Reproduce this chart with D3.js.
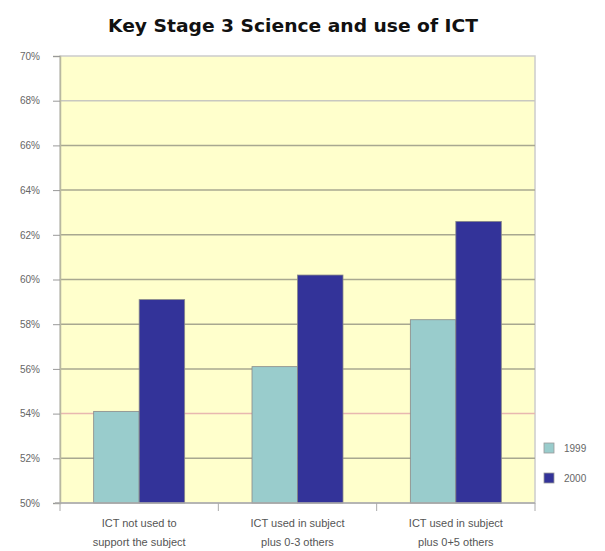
<!DOCTYPE html>
<html>
<head>
<meta charset="utf-8">
<script src="https://cdn.jsdelivr.net/npm/d3@7"></script>
<style>
  body { margin: 0; background: #fff; }
  svg { display: block; }
</style>
</head>
<body>
<svg id="chart" width="605" height="551"></svg>
<script>
// values
var categories = [
    ["ICT not used to", "support the subject"],
    ["ICT used in subject", "plus 0-3 others"],
    ["ICT used in subject", "plus 0+5 others"]
];
var seriesNames = ["1999", "2000"];
var values1999 = [54.1, 56.1, 58.2];
var values2000 = [59.1, 60.2, 62.6];
var yTicks = [50, 52, 54, 56, 58, 60, 62, 64, 66, 68, 70];

var colors = ["#99cccc", "#333399"];

var svg = d3.select("#chart");
var plotLeft = 60, plotRight = 535, plotTop = 56, plotBottom = 503;

svg.append("text")
    .attr("x", 293)
    .attr("y", 32)
    .attr("text-anchor", "middle")
    .attr("font-family", "DejaVu Sans, sans-serif")
    .attr("font-weight", "bold")
    .attr("font-size", "17px")
    .attr("textLength", 370)
    .attr("lengthAdjust", "spacingAndGlyphs")
    .attr("fill", "#111")
    .text("Key Stage 3 Science and use of ICT");

var xScale = d3.scaleBand().domain(d3.range(categories.length)).range([plotLeft, plotRight]);
var inner = d3.scaleBand().domain(seriesNames).range([0, xScale.bandwidth()]).paddingOuter(0.74);
var yScale = d3.scaleLinear().domain([50, 70]).range([plotBottom, plotTop]);

// plot background
svg.append("rect")
    .attr("x", plotLeft).attr("y", plotTop)
    .attr("width", plotRight - plotLeft).attr("height", plotBottom - plotTop)
    .attr("fill", "#ffffcc")
    .attr("stroke", "#cccccc")
    .attr("stroke-width", 1.5);

// gridlines
svg.append("g").selectAll("line")
    .data(yTicks.filter(function(d) { return d > 50 && d < 70; }))
    .enter().append("line")
    .attr("x1", plotLeft).attr("x2", plotRight)
    .attr("y1", function(d) { return yScale(d); })
    .attr("y2", function(d) { return yScale(d); })
    .attr("stroke", function(d) {
        if (d >= 68) return "#c8c8c0";
        if (d == 54) return "#e8b8b0";
        return "#a8a890";
    })
    .attr("stroke-width", 1.5);

// y axis
var yAxis = svg.append("g")
    .attr("transform", "translate(" + plotLeft + ",0)")
    .call(d3.axisLeft(yScale).tickValues(yTicks).tickSize(7).tickPadding(13)
        .tickFormat(function(d) { return d + "%"; }));
yAxis.select(".domain").attr("stroke", "#b8b8a0").attr("stroke-width", 1.5);
yAxis.selectAll(".tick line").attr("stroke", "#999");
yAxis.selectAll("text")
    .attr("font-family", "Liberation Sans, Arial, sans-serif")
    .attr("font-size", "10px")
    .attr("fill", "#666");

// bars
var groups = svg.append("g").selectAll("g")
    .data(categories)
    .enter().append("g")
    .attr("transform", function(d, i) { return "translate(" + xScale(i) + ",0)"; });

groups.selectAll("rect")
    .data(function(d, i) {
        return [
            {name: seriesNames[0], value: values1999[i]},
            {name: seriesNames[1], value: values2000[i]}
        ];
    })
    .enter().append("rect")
    .attr("x", function(d) { return inner(d.name); })
    .attr("y", function(d) { return yScale(d.value); })
    .attr("width", inner.bandwidth())
    .attr("height", function(d) { return plotBottom - yScale(d.value); })
    .attr("fill", function(d, i) { return colors[i]; })
    .attr("stroke", "#888")
    .attr("stroke-width", 0.8);

// x axis
var xAxis = svg.append("g")
    .attr("transform", "translate(0," + plotBottom + ")");
xAxis.append("line")
    .attr("x1", plotLeft - 5).attr("x2", plotRight)
    .attr("stroke", "#aaa").attr("stroke-width", 1.5);
xAxis.selectAll(".tk")
    .data(d3.range(categories.length + 1))
    .enter().append("line")
    .attr("x1", function(i) { return i < categories.length ? xScale(i) : plotRight; })
    .attr("x2", function(i) { return i < categories.length ? xScale(i) : plotRight; })
    .attr("y1", 0).attr("y2", 8)
    .attr("stroke", "#aaa");

var labels = xAxis.selectAll(".lbl")
    .data(categories)
    .enter().append("text")
    .attr("x", function(d, i) { return xScale(i) + xScale.bandwidth() / 2; })
    .attr("y", 24)
    .attr("text-anchor", "middle")
    .attr("font-family", "Liberation Sans, Arial, sans-serif")
    .attr("font-size", "11px")
    .attr("fill", "#555");
labels.selectAll("tspan")
    .data(function(d) { return d; })
    .enter().append("tspan")
    .attr("x", function() { return this.parentNode.getAttribute("x"); })
    .attr("dy", function(d, i) { return i == 0 ? 0 : 19; })
    .text(function(d) { return d; });

// legend
var legend = svg.append("g").selectAll("g")
    .data(seriesNames)
    .enter().append("g")
    .attr("transform", function(d, i) { return "translate(544," + (443 + i * 30) + ")"; });
legend.append("rect")
    .attr("width", 10).attr("height", 10)
    .attr("fill", function(d, i) { return colors[i]; })
    .attr("stroke", "#999").attr("stroke-width", 0.8);
legend.append("text")
    .attr("x", 20).attr("y", 9)
    .attr("font-family", "Liberation Sans, Arial, sans-serif")
    .attr("font-size", "10px")
    .attr("fill", "#666")
    .text(function(d) { return d; });
</script>
</body>
</html>
